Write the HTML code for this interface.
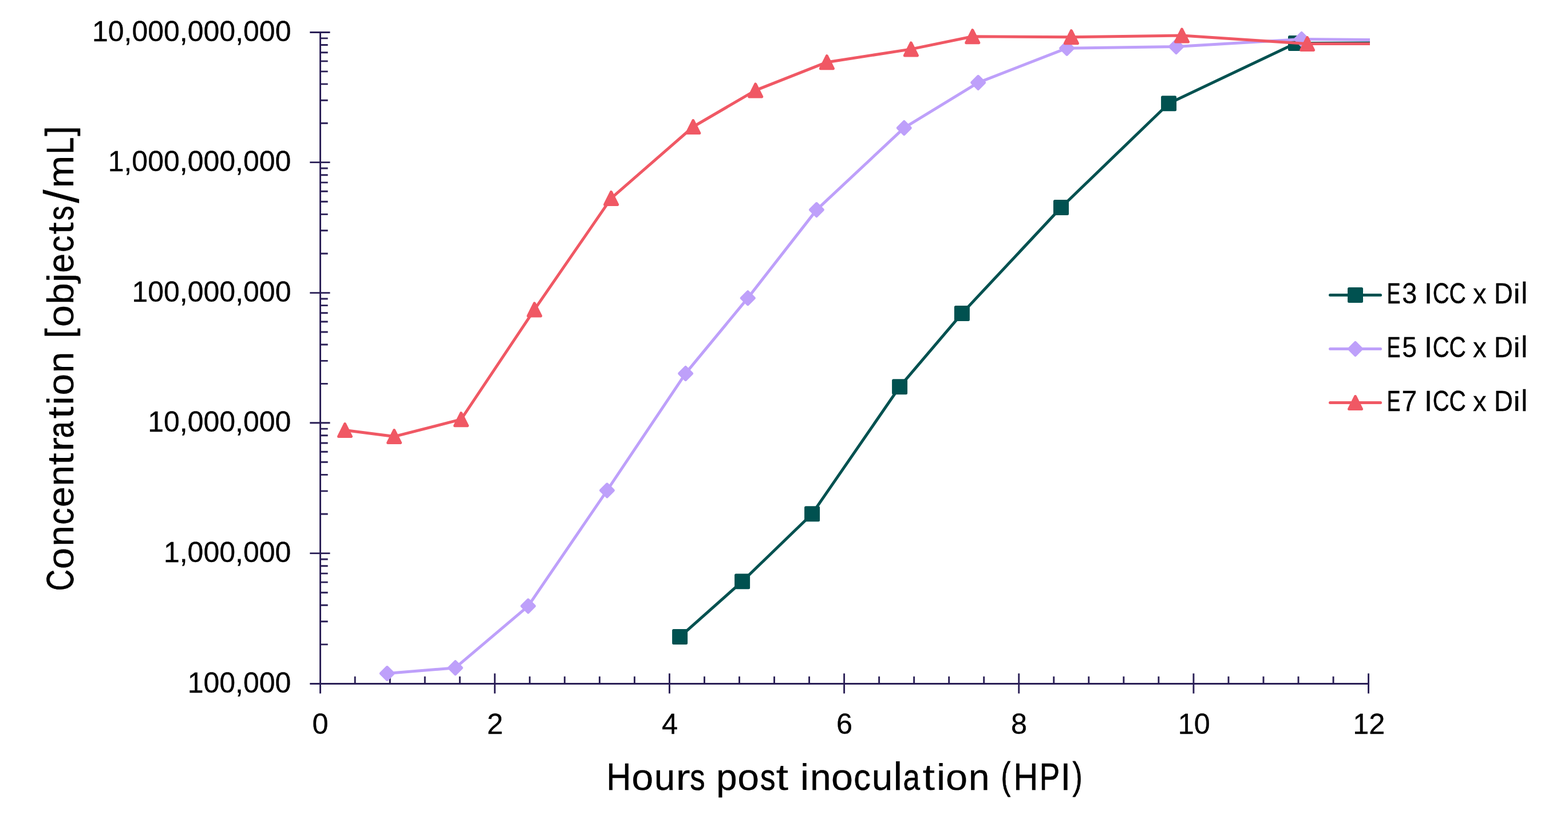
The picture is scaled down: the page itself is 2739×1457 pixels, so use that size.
<!DOCTYPE html>
<html lang="en"><head><meta charset="utf-8"><title>Concentration [objects/mL] vs Hours post inoculation (HPI)</title>
<style>html,body{margin:0;padding:0;background:#fff}body{width:2739px;height:1457px;overflow:hidden}svg{display:block}text{font-family:'Liberation Sans', Arial, Helvetica, sans-serif;fill:#000;stroke:#000;stroke-width:0.35px;stroke-linejoin:round}</style>
</head><body>
<svg width="2739" height="1457" viewBox="0 0 2739 1457" role="img" aria-label="Line chart: concentration in objects per mL (log scale) versus hours post inoculation for E3, E5 and E7 ICC x Dil">
<rect width="2739" height="1457" fill="#fff"/>
<defs><clipPath id="plot"><rect x="540" y="0" width="1853" height="1215"/></clipPath></defs>
<path d="M559.5 56.5V1211.6M541.3 1194.5H2390.5M541.3 966.6H576.5M541.3 738.7H576.5M541.3 511.6H576.5M541.3 283.6H576.5M541.3 56.5H576.5M559.5 1125.9H572.7M559.5 1085.76H572.7M559.5 1057.29H572.7M559.5 1035.2H572.7M559.5 1017.16H572.7M559.5 1001.9H572.7M559.5 988.69H572.7M559.5 977.03H572.7M559.5 898H572.7M559.5 857.86H572.7M559.5 829.39H572.7M559.5 807.3H572.7M559.5 789.26H572.7M559.5 774H572.7M559.5 760.79H572.7M559.5 749.13H572.7M559.5 670.34H572.7M559.5 630.35H572.7M559.5 601.97H572.7M559.5 579.96H572.7M559.5 561.98H572.7M559.5 546.78H572.7M559.5 533.61H572.7M559.5 521.99H572.7M559.5 442.97H572.7M559.5 402.82H572.7M559.5 374.33H572.7M559.5 352.23H572.7M559.5 334.18H572.7M559.5 318.92H572.7M559.5 305.7H572.7M559.5 294.03H572.7M559.5 215.24H572.7M559.5 175.25H572.7M559.5 146.87H572.7M559.5 124.86H572.7M559.5 106.88H572.7M559.5 91.68H572.7M559.5 78.51H572.7M559.5 66.89H572.7M864.27 1176.4V1211.6M1169.43 1176.4V1211.6M1474.6 1176.4V1211.6M1779.77 1176.4V1211.6M2084.93 1176.4V1211.6M2390.5 1176.4V1211.6M620.13 1181.8V1194.5M681.17 1181.8V1194.5M742.2 1181.8V1194.5M803.23 1181.8V1194.5M925.3 1181.8V1194.5M986.33 1181.8V1194.5M1047.37 1181.8V1194.5M1108.4 1181.8V1194.5M1230.47 1181.8V1194.5M1291.5 1181.8V1194.5M1352.53 1181.8V1194.5M1413.57 1181.8V1194.5M1535.63 1181.8V1194.5M1596.67 1181.8V1194.5M1657.7 1181.8V1194.5M1718.73 1181.8V1194.5M1840.8 1181.8V1194.5M1901.83 1181.8V1194.5M1962.87 1181.8V1194.5M2023.9 1181.8V1194.5M2145.97 1181.8V1194.5M2207 1181.8V1194.5M2268.03 1181.8V1194.5M2329.07 1181.8V1194.5" fill="none" stroke="#2a1f56" stroke-width="2.9"/>
<g clip-path="url(#plot)">
<g fill="#005150" stroke="#005150" stroke-width="5" stroke-linejoin="round">
<polyline fill="none" points="1187.6,1112.6 1296.6,1015.7 1418.6,897.7 1571.6,675.7 1680.4,547.6 1853.5,362.5 2041.6,180.8 2263.5,75.5 2420,74.9"/>
<polygon points="1176.6,1101.6 1198.6,1101.6 1198.6,1123.6 1176.6,1123.6"/>
<polygon points="1285.6,1004.7 1307.6,1004.7 1307.6,1026.7 1285.6,1026.7"/>
<polygon points="1407.6,886.7 1429.6,886.7 1429.6,908.7 1407.6,908.7"/>
<polygon points="1560.6,664.7 1582.6,664.7 1582.6,686.7 1560.6,686.7"/>
<polygon points="1669.4,536.6 1691.4,536.6 1691.4,558.6 1669.4,558.6"/>
<polygon points="1842.5,351.5 1864.5,351.5 1864.5,373.5 1842.5,373.5"/>
<polygon points="2030.6,169.8 2052.6,169.8 2052.6,191.8 2030.6,191.8"/>
<polygon points="2252.5,64.5 2274.5,64.5 2274.5,86.5 2252.5,86.5"/>
</g>
<g fill="#bea0fa" stroke="#bea0fa" stroke-width="5" stroke-linejoin="round">
<polyline fill="none" points="676.2,1176.6 795.4,1166.7 922.6,1058.8 1060.4,856.8 1197.6,652.4 1306.3,520.7 1426.4,366.6 1579.3,223.4 1708.7,144.3 1863.6,84.2 2054.6,81.5 2273.6,68.4 2420,69.6"/>
<polygon points="676.2,1165.6 687.2,1176.6 676.2,1187.6 665.2,1176.6"/>
<polygon points="795.4,1155.7 806.4,1166.7 795.4,1177.7 784.4,1166.7"/>
<polygon points="922.6,1047.8 933.6,1058.8 922.6,1069.8 911.6,1058.8"/>
<polygon points="1060.4,845.8 1071.4,856.8 1060.4,867.8 1049.4,856.8"/>
<polygon points="1197.6,641.4 1208.6,652.4 1197.6,663.4 1186.6,652.4"/>
<polygon points="1306.3,509.7 1317.3,520.7 1306.3,531.7 1295.3,520.7"/>
<polygon points="1426.4,355.6 1437.4,366.6 1426.4,377.6 1415.4,366.6"/>
<polygon points="1579.3,212.4 1590.3,223.4 1579.3,234.4 1568.3,223.4"/>
<polygon points="1708.7,133.3 1719.7,144.3 1708.7,155.3 1697.7,144.3"/>
<polygon points="1863.6,73.2 1874.6,84.2 1863.6,95.2 1852.6,84.2"/>
<polygon points="2054.6,70.5 2065.6,81.5 2054.6,92.5 2043.6,81.5"/>
<polygon points="2273.6,57.4 2284.6,68.4 2273.6,79.4 2262.6,68.4"/>
</g>
<g fill="#f05864" stroke="#f05864" stroke-width="5" stroke-linejoin="round">
<polyline fill="none" points="602.5,751.6 688.6,762.6 805.5,732.7 933.6,540.9 1067.6,346.4 1210.8,221.5 1319.7,157.9 1444.4,108.7 1591.4,85.9 1698.8,63.7 1871.4,64.7 2064.5,62.1 2283.6,76.6 2420,76.6"/>
<polygon points="602.5,740.6 613.5,762.6 591.5,762.6"/>
<polygon points="688.6,751.6 699.6,773.6 677.6,773.6"/>
<polygon points="805.5,721.7 816.5,743.7 794.5,743.7"/>
<polygon points="933.6,529.9 944.6,551.9 922.6,551.9"/>
<polygon points="1067.6,335.4 1078.6,357.4 1056.6,357.4"/>
<polygon points="1210.8,210.5 1221.8,232.5 1199.8,232.5"/>
<polygon points="1319.7,146.9 1330.7,168.9 1308.7,168.9"/>
<polygon points="1444.4,97.7 1455.4,119.7 1433.4,119.7"/>
<polygon points="1591.4,74.9 1602.4,96.9 1580.4,96.9"/>
<polygon points="1698.8,52.7 1709.8,74.7 1687.8,74.7"/>
<polygon points="1871.4,53.7 1882.4,75.7 1860.4,75.7"/>
<polygon points="2064.5,51.1 2075.5,73.1 2053.5,73.1"/>
<polygon points="2283.6,65.6 2294.6,87.6 2272.6,87.6"/>
</g>
</g>
<g fill="#005150" stroke="#005150" stroke-width="5" stroke-linejoin="round" stroke-linecap="round"><path d="M2323.5 515.5H2411.5" fill="none"/><polygon points="2356.5,504.5 2378.5,504.5 2378.5,526.5 2356.5,526.5"/></g>
<g fill="#bea0fa" stroke="#bea0fa" stroke-width="5" stroke-linejoin="round" stroke-linecap="round"><path d="M2323.5 609.5H2411.5" fill="none"/><polygon points="2367.5,598.5 2378.5,609.5 2367.5,620.5 2356.5,609.5"/></g>
<g fill="#f05864" stroke="#f05864" stroke-width="5" stroke-linejoin="round" stroke-linecap="round"><path d="M2323.5 703.5H2411.5" fill="none"/><polygon points="2367.5,692.5 2378.5,714.5 2356.5,714.5"/></g>
<text x="327.66" y="1210.1" font-size="50.4" textLength="180.73" lengthAdjust="spacingAndGlyphs">100,000</text>
<text x="285.91" y="982.2" font-size="50.4" textLength="222.42" lengthAdjust="spacingAndGlyphs">1,000,000</text>
<text x="258.17" y="754.3" font-size="50.4" textLength="250.23" lengthAdjust="spacingAndGlyphs">10,000,000</text>
<text x="230.42" y="527.2" font-size="50.4" textLength="278.04" lengthAdjust="spacingAndGlyphs">100,000,000</text>
<text x="188.67" y="299.2" font-size="50.4" textLength="319.73" lengthAdjust="spacingAndGlyphs">1,000,000,000</text>
<text x="160.92" y="72.1" font-size="50.4" textLength="347.54" lengthAdjust="spacingAndGlyphs">10,000,000,000</text>
<text x="545.51" y="1281.5" font-size="50.4">0</text>
<text x="850.68" y="1281.5" font-size="50.4">2</text>
<text x="1155.97" y="1281.5" font-size="50.4">4</text>
<text x="1460.89" y="1281.5" font-size="50.4">6</text>
<text x="1766.05" y="1281.5" font-size="50.4">8</text>
<text x="2057.65" y="1281.5" font-size="50.4">10</text>
<text x="2363.2" y="1281.5" font-size="50.4">12</text>
<text font-size="50.0" xml:space="preserve"><tspan x="2422.81" textLength="23.68" lengthAdjust="spacingAndGlyphs" y="530.1" stroke-width="0.73">E</tspan><tspan x="2449.14" textLength="25.92" lengthAdjust="spacingAndGlyphs" y="530.1" stroke-width="0.44">3</tspan> <tspan x="2488.05" textLength="14.04" lengthAdjust="spacingAndGlyphs" y="530.1">I</tspan><tspan x="2502.8" textLength="28.89" lengthAdjust="spacingAndGlyphs" y="530.1" stroke-width="0.61">C</tspan><tspan x="2531.58" textLength="29.23" lengthAdjust="spacingAndGlyphs" y="530.1" stroke-width="0.6">C</tspan> <tspan x="2573.09" textLength="23.51" lengthAdjust="spacingAndGlyphs" font-size="48.6" y="530.1">x</tspan> <tspan x="2610.07" textLength="32.77" lengthAdjust="spacingAndGlyphs" y="530.1" stroke-width="0.47">D</tspan><tspan x="2643.32" textLength="12.59" lengthAdjust="spacingAndGlyphs" font-size="48.75" y="530.1" stroke-width="0.14">i</tspan><tspan x="2656.88" textLength="11.36" lengthAdjust="spacingAndGlyphs" font-size="51.45" y="530.1">l</tspan></text>
<text font-size="50.0" xml:space="preserve"><tspan x="2422.81" textLength="23.68" lengthAdjust="spacingAndGlyphs" y="624.1" stroke-width="0.73">E</tspan><tspan x="2449.16" textLength="25.64" lengthAdjust="spacingAndGlyphs" y="624.1" stroke-width="0.45">5</tspan> <tspan x="2488.05" textLength="14.04" lengthAdjust="spacingAndGlyphs" y="624.1">I</tspan><tspan x="2502.8" textLength="28.89" lengthAdjust="spacingAndGlyphs" y="624.1" stroke-width="0.61">C</tspan><tspan x="2531.58" textLength="29.23" lengthAdjust="spacingAndGlyphs" y="624.1" stroke-width="0.6">C</tspan> <tspan x="2573.09" textLength="23.51" lengthAdjust="spacingAndGlyphs" font-size="48.6" y="624.1">x</tspan> <tspan x="2610.07" textLength="32.77" lengthAdjust="spacingAndGlyphs" y="624.1" stroke-width="0.47">D</tspan><tspan x="2643.32" textLength="12.59" lengthAdjust="spacingAndGlyphs" font-size="48.75" y="624.1" stroke-width="0.14">i</tspan><tspan x="2656.88" textLength="11.36" lengthAdjust="spacingAndGlyphs" font-size="51.45" y="624.1">l</tspan></text>
<text font-size="50.0" xml:space="preserve"><tspan x="2422.81" textLength="23.68" lengthAdjust="spacingAndGlyphs" y="718.1" stroke-width="0.73">E</tspan><tspan x="2448.59" textLength="26.77" lengthAdjust="spacingAndGlyphs" y="718.1">7</tspan> <tspan x="2488.05" textLength="14.04" lengthAdjust="spacingAndGlyphs" y="718.1">I</tspan><tspan x="2502.8" textLength="28.89" lengthAdjust="spacingAndGlyphs" y="718.1" stroke-width="0.61">C</tspan><tspan x="2531.58" textLength="29.23" lengthAdjust="spacingAndGlyphs" y="718.1" stroke-width="0.6">C</tspan> <tspan x="2573.09" textLength="23.51" lengthAdjust="spacingAndGlyphs" font-size="48.6" y="718.1">x</tspan> <tspan x="2610.07" textLength="32.77" lengthAdjust="spacingAndGlyphs" y="718.1" stroke-width="0.47">D</tspan><tspan x="2643.32" textLength="12.59" lengthAdjust="spacingAndGlyphs" font-size="48.75" y="718.1" stroke-width="0.14">i</tspan><tspan x="2656.88" textLength="11.36" lengthAdjust="spacingAndGlyphs" font-size="51.45" y="718.1">l</tspan></text>
<text font-size="66.4" xml:space="preserve"><tspan x="1059.19" textLength="43.23" lengthAdjust="spacingAndGlyphs" y="1379.9" stroke-width="0.52">H</tspan><tspan x="1103.16" textLength="38.05" lengthAdjust="spacingAndGlyphs" font-size="64.54" y="1379.9" stroke-width="0.25">o</tspan><tspan x="1142.82" textLength="36.64" lengthAdjust="spacingAndGlyphs" font-size="64.54" y="1379.9">u</tspan><tspan x="1180.21" textLength="25.58" lengthAdjust="spacingAndGlyphs" font-size="64.54" y="1379.9" stroke-width="0.03">r</tspan><tspan x="1205.32" textLength="26.32" lengthAdjust="spacingAndGlyphs" font-size="64.54" y="1379.9" stroke-width="0.66">s</tspan> <tspan x="1251.01" textLength="36.71" lengthAdjust="spacingAndGlyphs" font-size="64.54" y="1379.9">p</tspan><tspan x="1288.38" textLength="37.82" lengthAdjust="spacingAndGlyphs" font-size="64.54" y="1379.9" stroke-width="0.26">o</tspan><tspan x="1328.11" textLength="26.55" lengthAdjust="spacingAndGlyphs" font-size="64.54" y="1379.9" stroke-width="0.65">s</tspan><tspan x="1355.43" textLength="21.68" lengthAdjust="spacingAndGlyphs" font-size="65.01" y="1379.9" stroke-width="0.01">t</tspan> <tspan x="1397.65" textLength="15.55" lengthAdjust="spacingAndGlyphs" font-size="64.74" y="1379.9" stroke-width="0.21">i</tspan><tspan x="1414.9" textLength="36.77" lengthAdjust="spacingAndGlyphs" font-size="64.54" y="1379.9">n</tspan><tspan x="1452.06" textLength="38.05" lengthAdjust="spacingAndGlyphs" font-size="64.54" y="1379.9" stroke-width="0.25">o</tspan><tspan x="1491.32" textLength="29.77" lengthAdjust="spacingAndGlyphs" font-size="64.54" y="1379.9" stroke-width="0.48">c</tspan><tspan x="1522.72" textLength="36.64" lengthAdjust="spacingAndGlyphs" font-size="64.54" y="1379.9">u</tspan><tspan x="1560.31" textLength="16.05" lengthAdjust="spacingAndGlyphs" font-size="68.33" y="1379.9" stroke-width="0.25">l</tspan><tspan x="1577.51" textLength="29.55" lengthAdjust="spacingAndGlyphs" font-size="64.54" y="1379.9" stroke-width="0.65">a</tspan><tspan x="1611.53" textLength="21.68" lengthAdjust="spacingAndGlyphs" font-size="65.01" y="1379.9" stroke-width="0.01">t</tspan><tspan x="1635.92" textLength="15.31" lengthAdjust="spacingAndGlyphs" font-size="64.74" y="1379.9" stroke-width="0.24">i</tspan><tspan x="1651.95" textLength="38.17" lengthAdjust="spacingAndGlyphs" font-size="64.54" y="1379.9" stroke-width="0.24">o</tspan><tspan x="1691.8" textLength="36.77" lengthAdjust="spacingAndGlyphs" font-size="64.54" y="1379.9">n</tspan> <tspan x="1748.47" textLength="16.84" lengthAdjust="spacingAndGlyphs" font-size="67.4" y="1378.3" stroke-width="0.79">(</tspan><tspan x="1770.31" textLength="43.2" lengthAdjust="spacingAndGlyphs" y="1379.9" stroke-width="0.52">H</tspan><tspan x="1815.75" textLength="35.41" lengthAdjust="spacingAndGlyphs" y="1379.9" stroke-width="0.7">P</tspan><tspan x="1852.13" textLength="18.14" lengthAdjust="spacingAndGlyphs" y="1379.9">I</tspan><tspan x="1873.38" textLength="17.29" lengthAdjust="spacingAndGlyphs" font-size="67.4" y="1378.3" stroke-width="0.76">)</tspan></text>
<text font-size="66.4" xml:space="preserve" transform="translate(127.5 1457) rotate(-90)"><tspan x="424.81" textLength="37.37" lengthAdjust="spacingAndGlyphs" y="0" stroke-width="0.74">C</tspan><tspan x="462.81" textLength="37.35" lengthAdjust="spacingAndGlyphs" font-size="64.54" y="0" stroke-width="0.28">o</tspan><tspan x="502.62" textLength="36.64" lengthAdjust="spacingAndGlyphs" font-size="64.54" y="0">n</tspan><tspan x="540.25" textLength="29.42" lengthAdjust="spacingAndGlyphs" font-size="64.54" y="0" stroke-width="0.5">c</tspan><tspan x="571.1" textLength="35.82" lengthAdjust="spacingAndGlyphs" font-size="64.54" y="0">e</tspan><tspan x="607.76" textLength="36.25" lengthAdjust="spacingAndGlyphs" font-size="64.54" y="0">n</tspan><tspan x="644.38" textLength="21.68" lengthAdjust="spacingAndGlyphs" font-size="65.01" y="0" stroke-width="0.01">t</tspan><tspan x="668.06" textLength="25.31" lengthAdjust="spacingAndGlyphs" font-size="64.54" y="0" stroke-width="0.05">r</tspan><tspan x="691.75" textLength="29.01" lengthAdjust="spacingAndGlyphs" font-size="64.54" y="0" stroke-width="0.68">a</tspan><tspan x="725.28" textLength="21.68" lengthAdjust="spacingAndGlyphs" font-size="65.01" y="0" stroke-width="0.01">t</tspan><tspan x="748.93" textLength="16.29" lengthAdjust="spacingAndGlyphs" font-size="64.74" y="0" stroke-width="0.12">i</tspan><tspan x="766.28" textLength="37.82" lengthAdjust="spacingAndGlyphs" font-size="64.54" y="0" stroke-width="0.26">o</tspan><tspan x="805.6" textLength="36.77" lengthAdjust="spacingAndGlyphs" font-size="64.54" y="0">n</tspan> <tspan x="866.23" textLength="17.37" lengthAdjust="spacingAndGlyphs" font-size="67.4" y="-1.6" stroke-width="0.48">[</tspan><tspan x="885.85" textLength="38.17" lengthAdjust="spacingAndGlyphs" font-size="64.54" y="0" stroke-width="0.24">o</tspan><tspan x="925.47" textLength="37.08" lengthAdjust="spacingAndGlyphs" font-size="65.54" y="0">b</tspan><tspan x="963.22" textLength="17.03" lengthAdjust="spacingAndGlyphs" font-size="64.74" y="0" stroke-width="0.04">j</tspan><tspan x="980.38" textLength="33.61" lengthAdjust="spacingAndGlyphs" font-size="64.54" y="0" stroke-width="0.46">e</tspan><tspan x="1016.15" textLength="29.42" lengthAdjust="spacingAndGlyphs" font-size="64.54" y="0" stroke-width="0.5">c</tspan><tspan x="1047.28" textLength="21.68" lengthAdjust="spacingAndGlyphs" font-size="65.01" y="0" stroke-width="0.01">t</tspan><tspan x="1072.07" textLength="25.52" lengthAdjust="spacingAndGlyphs" font-size="64.54" y="0" stroke-width="0.71">s</tspan><tspan x="1102.2" textLength="23.43" lengthAdjust="spacingAndGlyphs" font-size="84.33" y="9.5">/</tspan><tspan x="1128.46" textLength="56.89" lengthAdjust="spacingAndGlyphs" font-size="64.54" y="0" stroke-width="0.25">m</tspan><tspan x="1187.86" textLength="29.5" lengthAdjust="spacingAndGlyphs" y="0" stroke-width="0.7">L</tspan><tspan x="1219.17" textLength="17.39" lengthAdjust="spacingAndGlyphs" font-size="67.4" y="-1.6" stroke-width="0.48">]</tspan></text>
</svg>
</body></html>
